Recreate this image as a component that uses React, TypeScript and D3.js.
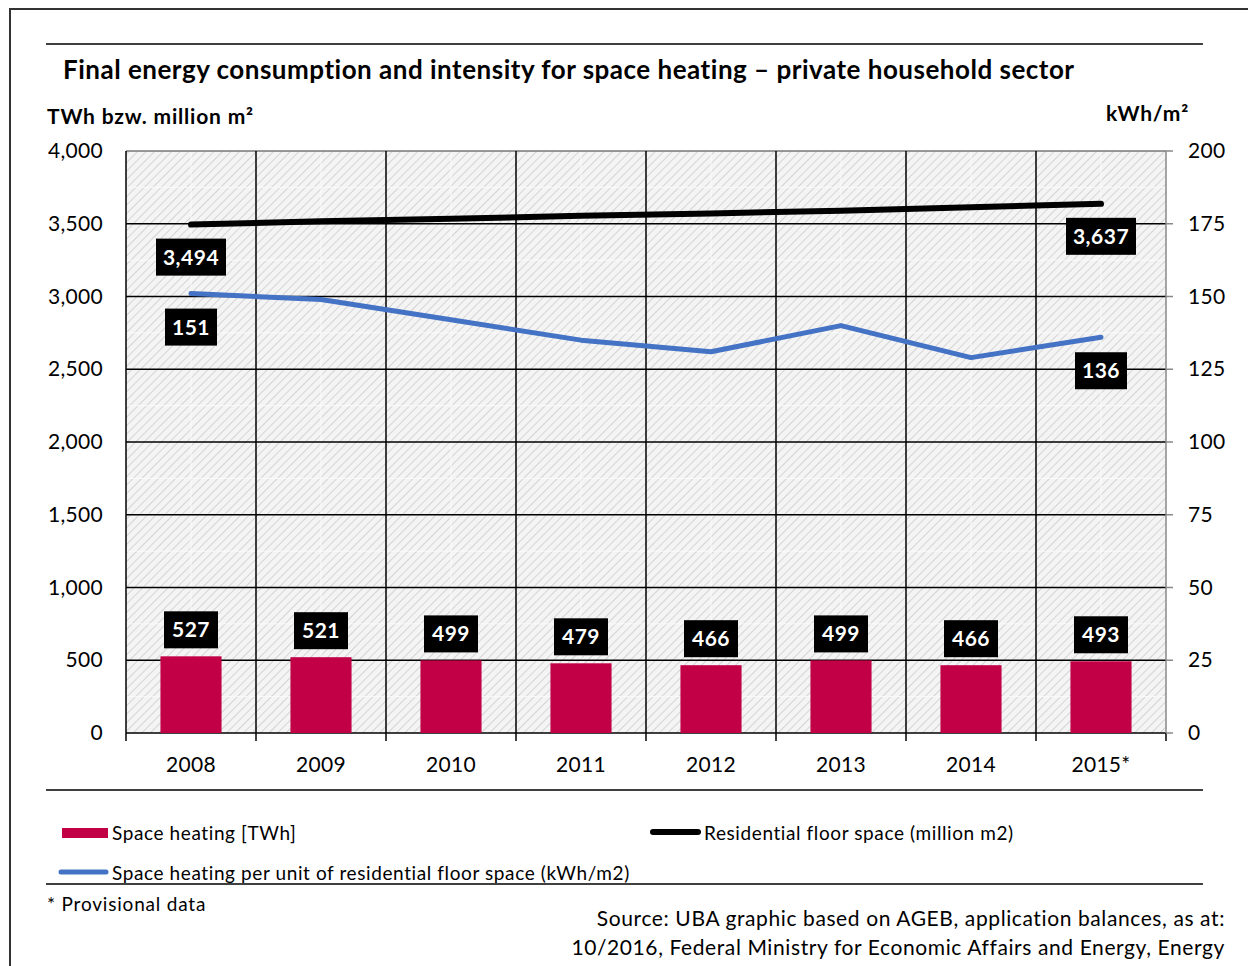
import React from "react";
import * as d3 from "d3";

const years = ["2008", "2009", "2010", "2011", "2012", "2013", "2014", "2015*"];
const spaceHeating = [527, 521, 499, 479, 466, 499, 466, 493];
const floorSpace = [3494, 3517, 3534, 3555, 3571, 3590, 3614, 3637];
const intensity = [151, 149, 142, 135, 131, 140, 129, 136];
const leftTicks = [0, 500, 1000, 1500, 2000, 2500, 3000, 3500, 4000];
const rightTicks = [0, 25, 50, 75, 100, 125, 150, 175, 200];

const FONT = "Lato, 'Open Sans', sans-serif";

export default function App() {
  const left = 126, right = 1166, top = 151, bottom = 733;
  const x = d3.scaleBand().domain(years).range([left, right]).paddingInner(0).paddingOuter(0);
  const y = d3.scaleLinear().domain([0, 4000]).range([bottom, top]);
  const y2 = d3.scaleLinear().domain([0, 200]).range([bottom, top]);
  const cx = (d: string) => (x(d) as number) + x.bandwidth() / 2;
  const barW = x.bandwidth() * 0.47;

  const floorLine = d3.line<number>().x((_, i) => cx(years[i])).y((d) => y(d));
  const intLine = d3.line<number>().x((_, i) => cx(years[i])).y((d) => y2(d));
  const fmt = d3.format(",");

  // black value boxes with white bold text
  const labelBox = (key: string, px: number, py: number, text: string, w: number) => (
    <g key={key}>
      <rect x={px - w / 2} y={py - 19} width={w} height={37} fill="#000" />
      <text x={px} y={py + 7} textAnchor="middle" fill="#fff" fontSize={21} fontWeight="bold" letterSpacing={0.5}>{text}</text>
    </g>
  );

  const minorY = d3.range(250, 4000, 500);

  return (
    <svg width={1248} height={966} style={{ position: "absolute", left: 0, top: 0, background: "#fff" }} fontFamily={FONT}>
      <defs>
        <pattern id="hatch" width={6} height={6} patternUnits="userSpaceOnUse" patternTransform="rotate(45)">
          <rect width={6} height={6} fill="#f4f4f4" />
          <line x1={0} y1={0} x2={0} y2={6} stroke="#d4d4d4" strokeWidth={2} />
        </pattern>
      </defs>
      <rect x={10} y={9} width={1260} height={1000} fill="none" stroke="#333" strokeWidth={2} />

      <line x1={46} x2={1203} y1={44} y2={44} stroke="#000" strokeWidth={1.5} />
      <text x={63} y={79} fontSize={26} fontWeight="bold" letterSpacing={0.5}>Final energy consumption and intensity for space heating – private household sector</text>
      <text x={47} y={124} fontSize={21} fontWeight="bold" letterSpacing={0.8}>TWh bzw. million m²</text>
      <text x={1189} y={121} fontSize={21} fontWeight="bold" letterSpacing={0.8} textAnchor="end">kWh/m²</text>

      <rect x={left} y={top} width={right - left} height={bottom - top} fill="url(#hatch)" />
      {minorY.map((v) => (
        <line key={"my" + v} x1={left} x2={right} y1={y(v)} y2={y(v)} stroke="#fafafa" strokeWidth={1} />
      ))}
      {years.map((d) => (
        <line key={"mx" + d} x1={cx(d)} x2={cx(d)} y1={top} y2={bottom} stroke="#fafafa" strokeWidth={1} />
      ))}
      {leftTicks.map((v) => (
        <line key={"gy" + v} x1={left} x2={right} y1={y(v)} y2={y(v)} stroke={v === 4000 ? "#777" : "#000"} strokeWidth={1.5} />
      ))}
      {years.map((d) => (
        <line key={"gx" + d} x1={x(d) as number} x2={x(d) as number} y1={top} y2={bottom + 8} stroke="#000" strokeWidth={1.5} />
      ))}
      <line x1={right} x2={right} y1={bottom} y2={bottom + 8} stroke="#000" strokeWidth={1.5} />
      <line x1={right} x2={right} y1={top} y2={bottom} stroke="#888" strokeWidth={1.5} />
      {rightTicks.map((v) => (
        <line key={"rt" + v} x1={right} x2={right + 7} y1={y2(v)} y2={y2(v)} stroke="#888" strokeWidth={1.5} />
      ))}

      {leftTicks.map((v) => (
        <text key={"lt" + v} x={103} y={y(v) + 7} textAnchor="end" fontSize={21} letterSpacing={0.3}>{fmt(v)}</text>
      ))}
      {rightTicks.map((v) => (
        <text key={"rl" + v} x={1188} y={y2(v) + 7} fontSize={21} letterSpacing={0.3}>{v}</text>
      ))}
      {years.map((d) => (
        <text key={"xl" + d} x={cx(d)} y={772} textAnchor="middle" fontSize={21} letterSpacing={0.3}>{d}</text>
      ))}

      {spaceHeating.map((v, i) => (
        <rect key={"b" + i} x={cx(years[i]) - barW / 2} y={y(v)} width={barW} height={bottom - y(v)} fill="#C20046" />
      ))}

      <path d={floorLine(floorSpace) as string} fill="none" stroke="#000" strokeWidth={6} strokeLinecap="round" strokeLinejoin="round" />
      <path d={intLine(intensity) as string} fill="none" stroke="#4472C4" strokeWidth={5} strokeLinecap="round" strokeLinejoin="round" />

      {spaceHeating.map((v, i) => labelBox("bl" + i, cx(years[i]), y(v) - 26, String(v), 54))}
      {[0, floorSpace.length - 1].map((i) => labelBox("fl" + i, cx(years[i]), y(floorSpace[i]) + 33, fmt(floorSpace[i]), 70))}
      {[0, intensity.length - 1].map((i) => labelBox("il" + i, cx(years[i]), y2(intensity[i]) + 34, String(intensity[i]), 52))}

      <line x1={46} x2={1203} y1={790} y2={790} stroke="#000" strokeWidth={1.5} />
      <rect x={62} y={828} width={46} height={10} fill="#C20046" />
      <text x={112} y={840} fontSize={19} letterSpacing={0.6}>Space heating [TWh]</text>
      <line x1={653} x2={698} y1={832} y2={832} stroke="#000" strokeWidth={6} strokeLinecap="round" />
      <text x={704} y={840} fontSize={19} letterSpacing={0.6}>Residential floor space (million m2)</text>
      <line x1={61} x2={106} y1={872} y2={872} stroke="#4472C4" strokeWidth={5} strokeLinecap="round" />
      <text x={112} y={880} fontSize={19} letterSpacing={0.6}>Space heating per unit of residential floor space (kWh/m2)</text>
      <line x1={46} x2={1203} y1={884} y2={884} stroke="#000" strokeWidth={1.5} />

      <text x={47} y={911} fontSize={19} letterSpacing={0.8}>* Provisional data</text>
      <text x={1225} y={926} fontSize={21} letterSpacing={0.6} textAnchor="end">Source: UBA graphic based on AGEB, application balances, as at:</text>
      <text x={1225} y={955} fontSize={21} letterSpacing={0.6} textAnchor="end">10/2016, Federal Ministry for Economic Affairs and Energy, Energy</text>
    </svg>
  );
}
